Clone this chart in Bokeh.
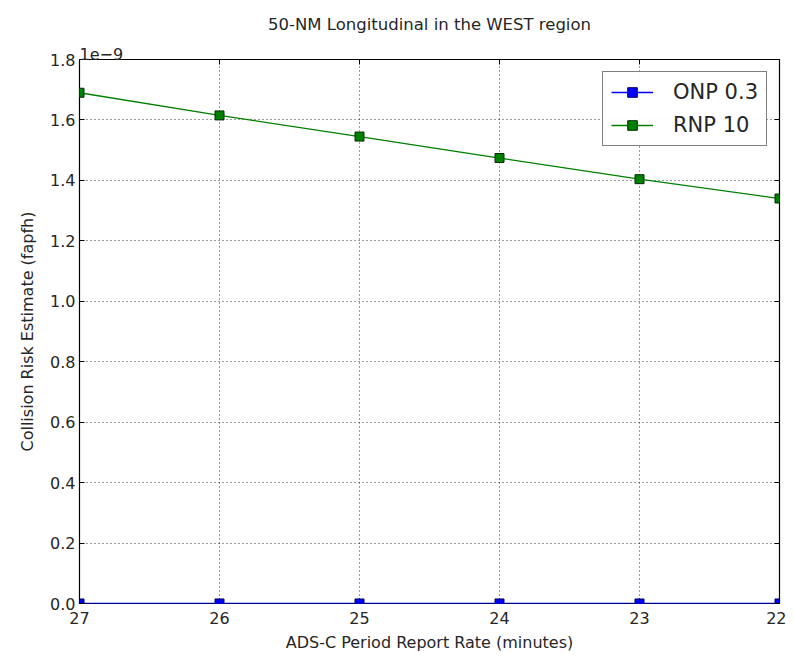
from bokeh.plotting import figure
from bokeh.models import Range1d, CustomJSTickFormatter, LinearAxis, Legend, LegendItem, FixedTicker, Title
from bokeh.embed import file_html
from bokeh.resources import INLINE

# data
report_rate = [27, 26, 25, 24, 23, 22]
onp_03 = [1.0e-13, 1.0e-13, 1.0e-13, 1.0e-13, 1.0e-13, 1.0e-13]
rnp_10 = [1.69e-9, 1.615e-9, 1.545e-9, 1.474e-9, 1.404e-9, 1.34e-9]
y_ticks = [0.0, 0.2e-9, 0.4e-9, 0.6e-9, 0.8e-9, 1.0e-9, 1.2e-9, 1.4e-9, 1.6e-9, 1.8e-9]
x_ticks = [27, 26, 25, 24, 23, 22]
offset_text = "1e\u22129"

FONT = "DejaVu Sans"

p = figure(width=786, height=654, output_backend="svg", toolbar_location=None,
           x_range=Range1d(27, 22), y_range=Range1d(0, 1.8e-9),
           min_border_left=79, min_border_right=7, min_border_top=10, min_border_bottom=40,
           title=None)

p.outline_line_color = "black"
p.outline_line_width = 1.2

fmt = CustomJSTickFormatter(code="return (tick/1e-9).toFixed(1);")
for ax in (p.xaxis[0], p.yaxis[0]):
    ax.major_label_text_font = FONT
    ax.major_label_text_font_size = "16px"
    ax.major_label_text_color = "#262626"
    ax.axis_label_text_font = FONT
    ax.axis_label_text_font_size = "16px"
    ax.axis_label_text_font_style = "normal"
    ax.axis_label_text_color = "#262626"
    ax.major_tick_in = 5
    ax.major_tick_out = 0
    ax.minor_tick_in = 0
    ax.minor_tick_out = 0
    ax.axis_line_color = None
    ax.major_tick_line_color = "black"
p.xaxis[0].ticker = FixedTicker(ticks=x_ticks)
p.yaxis[0].ticker = FixedTicker(ticks=y_ticks)
p.yaxis[0].formatter = fmt
p.xaxis[0].axis_label = "ADS-C Period Report Rate (minutes)"
p.yaxis[0].axis_label = "Collision Risk Estimate (fapfh)"
p.xaxis[0].major_label_standoff = 8
p.yaxis[0].major_label_standoff = 4
p.xaxis[0].axis_label_standoff = 6
p.yaxis[0].axis_label_standoff = 10

# inward ticks on right and top
right = LinearAxis(ticker=FixedTicker(ticks=y_ticks),
                   formatter=CustomJSTickFormatter(code="return '';"),
                   major_tick_in=5, major_tick_out=0, minor_tick_in=0, minor_tick_out=0,
                   axis_line_color=None, major_label_standoff=0)
p.add_layout(right, "right")
top = LinearAxis(ticker=FixedTicker(ticks=x_ticks),
                 formatter=CustomJSTickFormatter(code="return '';"),
                 major_tick_in=5, major_tick_out=0, minor_tick_in=0, minor_tick_out=0,
                 axis_line_color=None, major_label_standoff=0)
p.add_layout(top, "above")

# offset text and title above the frame
off = Title(text=offset_text, align="left", text_font=FONT, text_font_size="16px",
            text_font_style="normal", text_color="#262626", offset=0, standoff=0)
p.add_layout(off, "above")
ttl = Title(text="50-NM Longitudinal in the WEST region", align="center", text_font=FONT,
            text_font_size="16.5px", text_font_style="normal", text_color="#262626",
            standoff=24)
p.add_layout(ttl, "above")

p.xgrid.grid_line_color = "black"
p.ygrid.grid_line_color = "black"
p.xgrid.grid_line_dash = "1 3"
p.ygrid.grid_line_dash = "1 3"
p.xgrid.grid_line_width = 0.8
p.ygrid.grid_line_width = 0.8
p.xgrid.ticker = FixedTicker(ticks=x_ticks)
p.ygrid.ticker = FixedTicker(ticks=y_ticks)

l1 = p.line(report_rate, onp_03, line_color="#0000ff", line_width=1.3)
s1 = p.scatter(report_rate, onp_03, marker="square", size=9, fill_color="#0000ff", line_color="#000060")
l2 = p.line(report_rate, rnp_10, line_color="#008000", line_width=1.3)
s2 = p.scatter(report_rate, rnp_10, marker="square", size=9, fill_color="#008000", line_color="#003000")

legend = Legend(items=[LegendItem(label="ONP 0.3", renderers=[l1, s1]),
                       LegendItem(label="RNP 10", renderers=[l2, s2])],
                location="top_right")
legend.label_text_font = FONT
legend.label_text_font_size = "21px"
legend.label_text_color = "#262626"
legend.border_line_color = "black"
legend.border_line_width = 1
legend.glyph_width = 42
legend.glyph_height = 24
legend.spacing = 9
legend.padding = 8
legend.margin = 12
legend.label_standoff = 20
legend.label_height = 24
p.add_layout(legend)

open("out.html", "w").write(file_html(p, INLINE))
